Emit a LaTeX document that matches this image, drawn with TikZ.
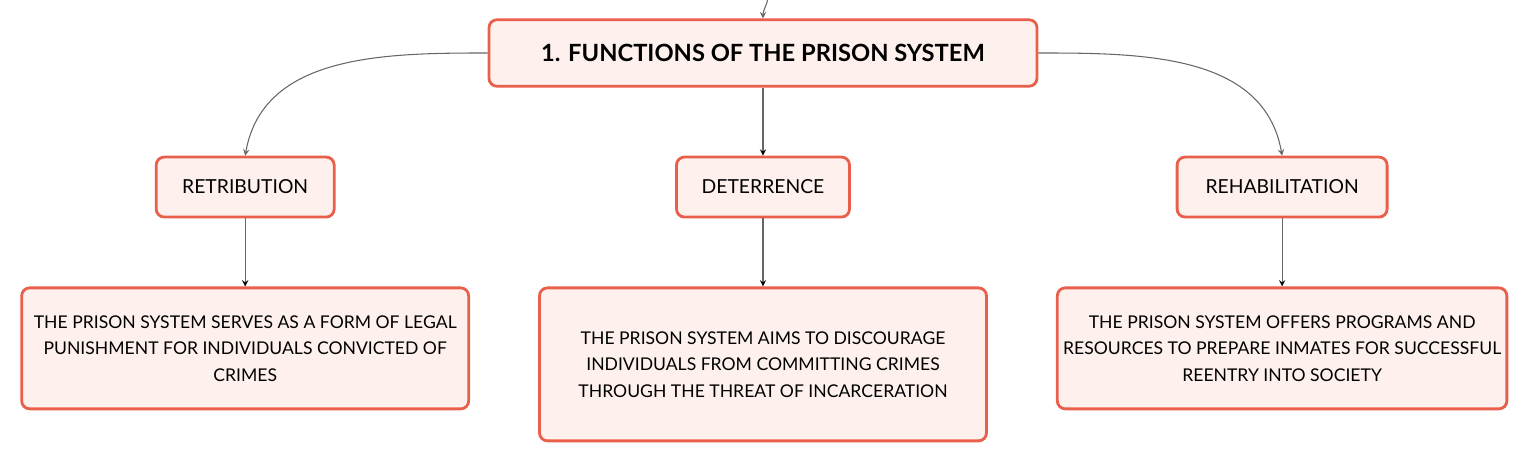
\documentclass[tikz,border=0pt]{standalone}
\usepackage{fontspec}
\setmainfont{Lato}
\usetikzlibrary{positioning}
\definecolor{boxline}{HTML}{E8604C}
\definecolor{boxfill}{HTML}{FEF1ED}
\definecolor{linkgray}{HTML}{666666}

\begin{document}
\begin{tikzpicture}[>=stealth,node distance=1.36cm,
                    link/.style={->,draw=linkgray,line width=0.6pt},
                    base box/.style={rectangle,rounded corners=0.16cm,draw=boxline,fill=boxfill,
                                     line width=1.6pt,align=center},
                    main box/.style={base box,minimum width=10.96cm,minimum height=1.33cm,
                                     font=\fontsize{13.5}{16}\selectfont\bfseries},
                    func box/.style={base box,minimum height=1.2cm,font=\fontsize{11}{13}\selectfont},
                    text box/.style={base box,minimum width=8.94cm,
                                     font=\fontsize{10}{15}\selectfont}]

  \useasboundingbox (-15.24,1.06) rectangle (15.30,-8.16);

  \node[main box] (top) at (0.02,0) {1. FUNCTIONS OF THE PRISON SYSTEM};
  \node[func box,minimum width=3.46cm] (deter) [below=of top] {DETERRENCE};
  \node[text box,minimum height=3.06cm] (dtext) [below=of deter]
    {THE PRISON SYSTEM AIMS TO DISCOURAGE\\ INDIVIDUALS FROM COMMITTING CRIMES\\ THROUGH THE THREAT OF INCARCERATION};
  \node[text box,minimum height=2.42cm] (rtext) [left=of dtext.north west,anchor=north east]
    {THE PRISON SYSTEM SERVES AS A FORM OF LEGAL\\ PUNISHMENT FOR INDIVIDUALS CONVICTED OF\\ CRIMES};
  \node[text box,minimum height=2.42cm] (htext) [right=of dtext.north east,anchor=north west]
    {THE PRISON SYSTEM OFFERS PROGRAMS AND\\ RESOURCES TO PREPARE INMATES FOR SUCCESSFUL\\ REENTRY INTO SOCIETY};
  \node[func box,minimum width=3.56cm] (retri) [above=of rtext] {RETRIBUTION};
  \node[func box,minimum width=4.2cm] (rehab) [above=of htext] {REHABILITATION};

  % link coming in from above
  \coordinate (src) at (0.12,1.1);
  \draw[link] (src) to[out=-100,in=90] (top.north);

  \draw[link] (top.west) to[out=180,in=80] (retri.north);
  \draw[link] (top.east) to[out=0,in=100] (rehab.north);
  \path[link] (top) edge (deter)
        (retri) edge (rtext)
        (deter) edge (dtext)
        (rehab) edge (htext);
\end{tikzpicture}
\end{document}
